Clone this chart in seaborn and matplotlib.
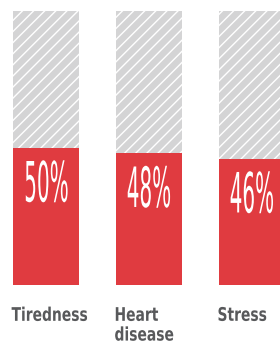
import matplotlib
matplotlib.use("Agg")
import matplotlib.pyplot as plt
import seaborn as sns
import pandas as pd
from matplotlib.patheffects import AbstractPathEffect
from matplotlib.transforms import Affine2D

categories = ["Tiredness", "Heart\ndisease", "Stress"]
shares = [50, 48, 46]
full_scale = [100, 100, 100]

RED = "#E03B40"
GREY = "#D4D4D5"
LABEL_GREY = "#58595B"


class Squeeze(AbstractPathEffect):
    """Draw text horizontally condensed, around its centre or its left edge."""
    def __init__(self, sx, anchor="center"):
        super().__init__()
        self.sx = sx
        self.anchor = anchor

    def draw_path(self, renderer, gc, tpath, affine, rgbFace=None):
        if self.anchor == "center":
            ext = tpath.get_extents()
            cx = (ext.x0 + ext.x1) / 2
        else:
            cx = 0
        squeeze = Affine2D().translate(-cx, 0).scale(self.sx, 1).translate(cx, 0)
        renderer.draw_path(gc, tpath, squeeze + affine, rgbFace)


sns.set_style("white")
plt.rcParams["hatch.linewidth"] = 1.0
plt.rcParams["hatch.color"] = "white"

df = pd.DataFrame({"cause": categories, "share": shares, "full": full_scale})

fig = plt.figure(figsize=(2.8, 3.44), dpi=100)
ax = fig.add_axes([0, 59 / 344, 1, 274 / 344])

# hatched background bars (100%)
sns.barplot(data=df, x="cause", y="full", color=GREY, width=0.64,
            saturation=1, errorbar=None, ax=ax)
for p in ax.patches:
    p.set_hatch("///")
    p.set_edgecolor("white")
    p.set_linewidth(0)

# red share bars
sns.barplot(data=df, x="cause", y="share", color=RED, width=0.64,
            saturation=1, errorbar=None, linewidth=0, ax=ax)

for i, (cat, v) in enumerate(zip(categories, shares)):
    ax.text(i, v - 4.2, f"{v}%", ha="center", va="top", fontsize=40,
            color="white", family="DejaVu Sans",
            path_effects=[Squeeze(0.36)])
    ax.text(i - 0.335, -7.6, cat, ha="left", va="top", fontsize=13.5,
            fontweight="bold", color=LABEL_GREY, linespacing=1.05,
            family="DejaVu Sans", clip_on=False,
            path_effects=[Squeeze(0.74, anchor="left")])

ax.set_xlim(-0.447, 2.272)
ax.set_ylim(0, 100)
ax.axis("off")

fig.savefig("out.png", dpi=100)
